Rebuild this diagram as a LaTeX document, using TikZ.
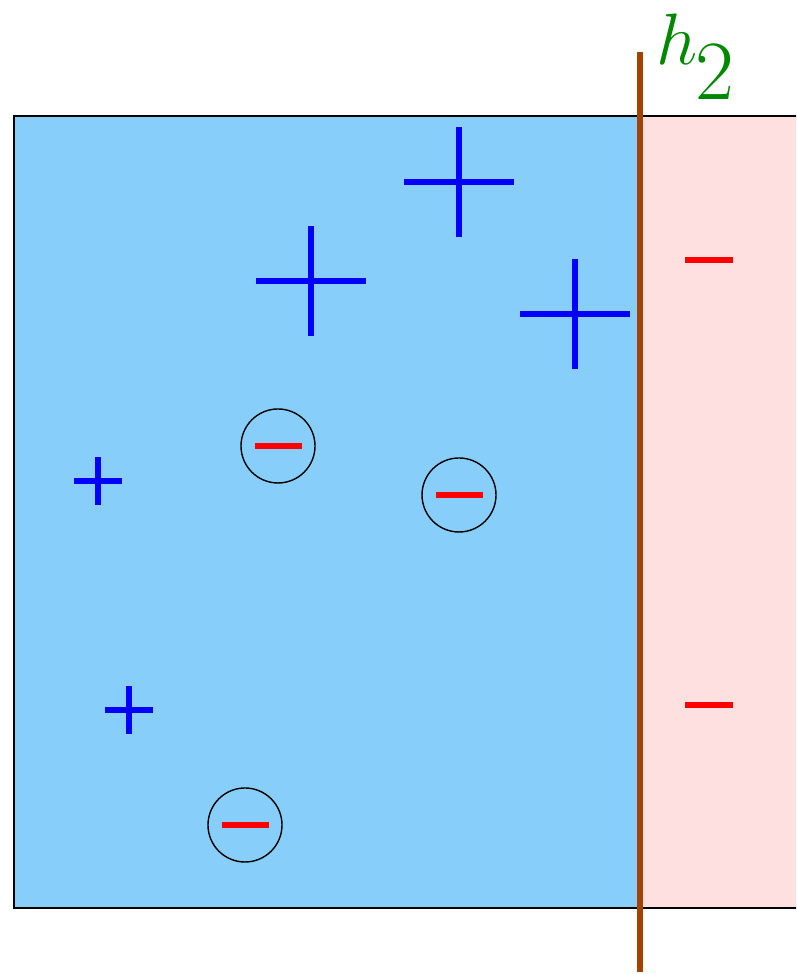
\documentclass[tikz,border=0pt]{standalone}
\usepackage[svgnames, dvipsnames]{xcolor}
\usepackage{amsmath,amssymb}
\usetikzlibrary{calc}

\definecolor{skyfill}{RGB}{135,206,250}
\definecolor{pinkfill}{RGB}{255,224,224}
\definecolor{wallbrown}{RGB}{165,66,0}
\definecolor{labelgreen}{RGB}{0,136,0}

\tikzset{
    bigplus/.style={blue, line width=1.45pt},
    smallplus/.style={blue, line width=1.45pt},
    minussign/.style={red, line width=1.7pt},
    ring/.style={black, line width=0.4pt}
}

\begin{document}
\begin{tikzpicture}
    \useasboundingbox (0,0) rectangle (7.96,9.74);
    % regions
    \begin{scope}
        \clip (0,0) rectangle (7.96,9.74);
        \fill[pinkfill] (6.40,0.66) rectangle (8.2,8.58);
        \fill[skyfill] (0.14,0.66) rectangle (6.40,8.58);
        \draw[line width=0.4pt] (8.2,0.66) -- (0.14,0.66) -- (0.14,8.58) -- (8.2,8.58);
    \end{scope}
    % wall
    \coordinate (wallB) at (6.40,0.02);
    \coordinate (wallT) at (6.40,9.22);
    \draw[wallbrown, line width=1.7pt] (wallB) -- (wallT);
    \node[labelgreen, anchor=base west, inner sep=0pt, font=\fontsize{22}{26}\selectfont] (hlab) at (6.56,9.09) {$h$\kern-0.02cm\raisebox{-0.35cm}{\fontsize{24}{28}\selectfont 2}};
    % large plus signs
    \foreach \x/\y in {4.59/7.92, 3.11/6.93, 5.75/6.60} {
        \draw[bigplus] (\x-0.55,\y) -- (\x+0.55,\y);
        \draw[bigplus] (\x,\y-0.55) -- (\x,\y+0.55);
    }
    % small plus signs
    \foreach \x/\y in {0.98/4.93, 1.29/2.64} {
        \draw[smallplus] (\x-0.24,\y) -- (\x+0.24,\y);
        \draw[smallplus] (\x,\y-0.24) -- (\x,\y+0.24);
    }
    % bound negative charges
    \foreach \x/\y [count=\i] in {2.78/5.28, 4.59/4.79, 2.45/1.49} {
        \coordinate (ion\i) at (\x,\y);
        \draw[ring] (ion\i) circle (0.37);
        \draw[minussign] ($(ion\i)+(-0.235,0)$) -- ($(ion\i)+(0.235,0)$);
    }
    % free negative charges
    \foreach \y [count=\i] in {7.14, 2.69} {
        \coordinate (neg\i) at (7.09,\y);
        \draw[minussign] ($(neg\i)+(-0.24,0)$) -- ($(neg\i)+(0.24,0)$);
    }
\end{tikzpicture}
\end{document}
